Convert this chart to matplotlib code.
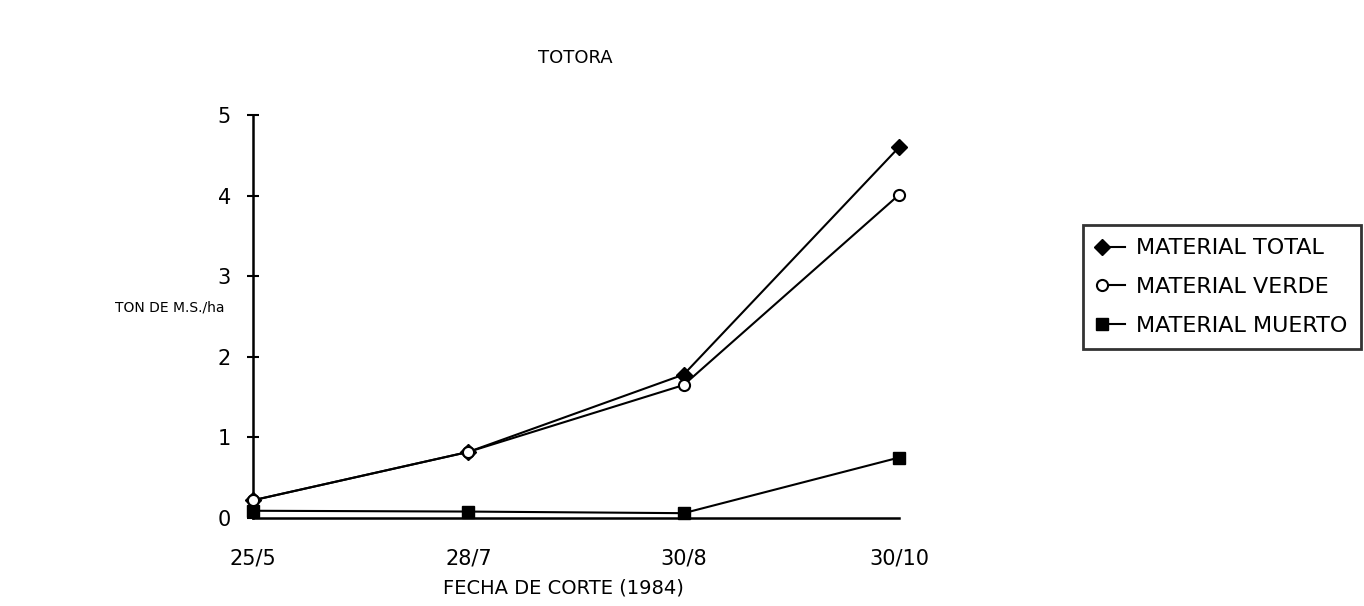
"""
TOTORA: dry matter yield (ton M.S./ha) by cutting date, 1984.
Total, green and dead material.
"""
import matplotlib
matplotlib.use("Agg")
import matplotlib.pyplot as plt
from matplotlib.lines import Line2D
from matplotlib.legend_handler import HandlerBase

# ---- data --------------------------------------------------------------
fechas = ["25/5", "28/7", "30/8", "30/10"]
material_total = [0.22, 0.82, 1.78, 4.60]
material_verde = [0.22, 0.82, 1.65, 4.01]
material_muerto = [0.09, 0.08, 0.06, 0.75]
y_ticks = [0, 1, 2, 3, 4, 5]

plt.rcParams["font.family"] = ["DejaVu Sans"]


class MarkerLeftHandler(HandlerBase):
    """Legend sample: marker at the left, short dash to its right."""

    def create_artists(self, legend, orig_handle, xdescent, ydescent,
                       width, height, fontsize, trans):
        y = height / 2 - ydescent
        x0 = -xdescent
        dash = Line2D([x0 + 0.25 * width, x0 + width], [y, y],
                      color="black", lw=1.5, transform=trans)
        mark = Line2D([x0 + 0.2 * width], [y], linestyle="none",
                      marker=orig_handle.get_marker(),
                      ms=orig_handle.get_markersize(),
                      mfc=orig_handle.get_markerfacecolor(),
                      mec="black", mew=orig_handle.get_markeredgewidth(),
                      transform=trans)
        return [dash, mark]


fig = plt.figure(figsize=(13.64, 6.06), dpi=100)
ax = fig.add_axes([0.1855, 0.1452, 0.4736, 0.665])

x = list(range(len(fechas)))
l_total, = ax.plot(x, material_total, color="black", lw=1.5, marker="D",
                   ms=8, mfc="black", mec="black", zorder=3)
l_verde, = ax.plot(x, material_verde, color="black", lw=1.5, marker="o",
                   ms=8, mfc="white", mec="black", mew=1.5, zorder=4)
l_muerto, = ax.plot(x, material_muerto, color="black", lw=1.5, marker="s",
                    ms=9, mfc="black", mec="black", zorder=3)

ax.set_xlim(0, 3)
ax.set_ylim(0, 5)
ax.set_xticks(x)
ax.set_xticklabels(fechas, fontsize=15)
ax.set_yticks(y_ticks)
ax.set_yticklabels([str(v) for v in y_ticks], fontsize=15)
ax.tick_params(axis="x", length=0, pad=22)
ax.tick_params(axis="y", direction="inout", length=8, width=1.5, pad=12)

for side in ("top", "right"):
    ax.spines[side].set_visible(False)
for side in ("left", "bottom"):
    ax.spines[side].set_linewidth(1.8)
for ln in ax.lines:
    ln.set_clip_on(False)

fig.text(0.4215, 0.905, "TOTORA", ha="center", va="center", fontsize=13)
fig.text(0.084, 0.492, "TON DE M.S./ha", ha="left", va="center", fontsize=10)
fig.text(0.413, 0.03, "FECHA DE CORTE (1984)", ha="center", va="center",
         fontsize=14)

handles = [l_total, l_verde, l_muerto]
labels = ["MATERIAL TOTAL", "MATERIAL VERDE", "MATERIAL MUERTO"]
leg = fig.legend(handles, labels, loc="center left",
                 bbox_to_anchor=(0.794, 0.526), fontsize=16, frameon=True,
                 fancybox=False, edgecolor="black", handlelength=1.3,
                 handletextpad=0.5, labelspacing=0.85, borderpad=0.6,
                 borderaxespad=0,
                 handler_map={Line2D: MarkerLeftHandler()})
leg.get_frame().set_linewidth(2)

fig.savefig("out.png", dpi=100)
